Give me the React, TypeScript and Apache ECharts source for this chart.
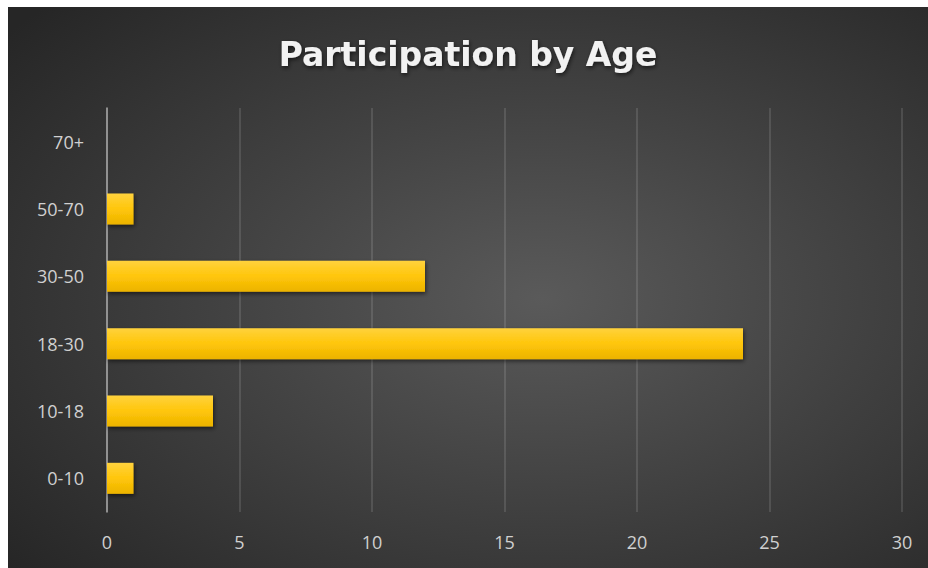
import React, { useEffect, useRef } from "react";
import * as echarts from "echarts";

const categories = ["0-10", "10-18", "18-30", "30-50", "50-70", "70+"];
const participants = [1, 4, 24, 12, 1, 0];
const xTicks = { min: 0, max: 30, interval: 5 };
const titleText = "Participation by Age";

export default function App() {
  const ref = useRef<HTMLDivElement>(null);
  useEffect(() => {
    if (!ref.current) return;
    const chart = echarts.init(ref.current, null, { renderer: "svg" });
    chart.setOption({
      animation: false,
      backgroundColor: {
        type: "radial",
        x: 0.58,
        y: 0.52,
        r: 0.75,
        colorStops: [
          { offset: 0, color: "#5a5a5a" },
          { offset: 1, color: "#262626" },
        ],
      },
      title: {
        text: titleText,
        left: "center",
        top: 26,
        textStyle: {
          color: "#f2f2f2",
          fontFamily: "DejaVu Sans",
          fontWeight: "bold",
          fontSize: 33,
          textShadowColor: "rgba(0,0,0,0.6)",
          textShadowBlur: 4,
          textShadowOffsetX: 1,
          textShadowOffsetY: 2,
        },
      },
      grid: { left: 99, right: 26, top: 101, bottom: 56, containLabel: false },
      xAxis: {
        type: "value",
        min: xTicks.min,
        max: xTicks.max,
        interval: xTicks.interval,
        axisLine: { show: false },
        axisTick: { show: false },
        axisLabel: {
          color: "#d0d0d0",
          fontFamily: "Open Sans",
          fontSize: 18,
          margin: 21,
        },
        splitLine: { show: true, lineStyle: { color: "rgba(255,255,255,0.16)", width: 1.5 } },
      },
      yAxis: {
        type: "category",
        data: categories,
        axisLine: { show: true, lineStyle: { color: "#a8a8a8", width: 1.5 } },
        axisTick: { show: false },
        axisLabel: {
          color: "#d0d0d0",
          fontFamily: "Open Sans",
          fontSize: 18,
          margin: 23,
        },
        splitLine: { show: false },
      },
      series: [
        {
          type: "bar",
          data: participants,
          barWidth: 31,
          itemStyle: {
            color: {
              type: "linear",
              x: 0,
              y: 0,
              x2: 0,
              y2: 1,
              colorStops: [
                { offset: 0, color: "#ffd23d" },
                { offset: 0.5, color: "#ffc60a" },
                { offset: 1, color: "#ecb300" },
              ],
            },
            shadowColor: "rgba(0,0,0,0.55)",
            shadowBlur: 4,
            shadowOffsetX: 1,
            shadowOffsetY: 2,
          },
        },
      ],
    });
    return () => chart.dispose();
  }, []);
  return (
    <div
      ref={ref}
      style={{ position: "absolute", left: 8, top: 7, width: 920, height: 561 }}
    />
  );
}
